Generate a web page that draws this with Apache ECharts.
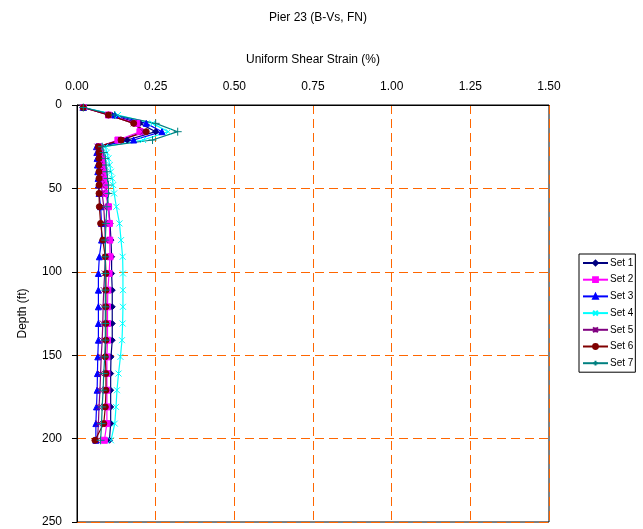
<!DOCTYPE html>
<html>
<head>
<meta charset="utf-8">
<script src="https://cdn.jsdelivr.net/npm/echarts@6/dist/echarts.min.js"></script>
<style>
  html, body { margin: 0; padding: 0; background: #fff; }
  #chart { width: 643px; height: 529px; }
</style>
</head>
<body>
<div id="chart"></div>
<script>
// depth of each point (ft)
const depths = [1.5, 6, 11, 16, 21, 25, 28.5, 32, 36, 40, 44, 48, 53, 61, 71, 81, 91, 101,
  111, 121, 131, 141, 151, 161, 171, 181, 191, 201];

// uniform shear strain (%) per set
const set1 = [0.02, 0.11, 0.20, 0.25, 0.16, 0.075, 0.078, 0.08, 0.082, 0.085, 0.088, 0.09, 0.095, 0.10,
  0.105, 0.108, 0.11, 0.11, 0.112, 0.112, 0.112, 0.112, 0.108, 0.107, 0.107, 0.107, 0.107, 0.103];
const set2 = [0.02, 0.10, 0.19, 0.20, 0.13, 0.07, 0.075, 0.078, 0.08, 0.082, 0.085, 0.088, 0.09, 0.10,
  0.103, 0.104, 0.105, 0.102, 0.098, 0.097, 0.097, 0.097, 0.095, 0.095, 0.095, 0.095, 0.095, 0.087];
const set3 = [0.02, 0.12, 0.22, 0.27, 0.18, 0.062, 0.063, 0.064, 0.065, 0.066, 0.067, 0.068, 0.07, 0.075,
  0.078, 0.078, 0.071, 0.068, 0.068, 0.068, 0.068, 0.068, 0.066, 0.065, 0.064, 0.062, 0.06, 0.06];
const set4 = [0.02, 0.13, 0.24, 0.29, 0.21, 0.09, 0.095, 0.10, 0.104, 0.108, 0.112, 0.115, 0.118, 0.125,
  0.135, 0.14, 0.145, 0.146, 0.146, 0.146, 0.145, 0.143, 0.138, 0.132, 0.127, 0.124, 0.12, 0.108];
const set5 = [0.02, 0.10, 0.18, 0.21, 0.14, 0.065, 0.068, 0.07, 0.072, 0.074, 0.076, 0.078, 0.08, 0.085,
  0.088, 0.09, 0.09, 0.088, 0.085, 0.083, 0.082, 0.08, 0.077, 0.075, 0.073, 0.07, 0.068, 0.065];
const set6 = [0.02, 0.10, 0.18, 0.22, 0.14, 0.068, 0.07, 0.07, 0.07, 0.07, 0.07, 0.07, 0.07, 0.071,
  0.075, 0.082, 0.09, 0.092, 0.092, 0.092, 0.092, 0.092, 0.09, 0.092, 0.092, 0.09, 0.085, 0.057];
const set7 = [0.02, 0.12, 0.25, 0.32, 0.24, 0.08, 0.085, 0.09, 0.092, 0.095, 0.097, 0.10, 0.10, 0.095,
  0.092, 0.09, 0.09, 0.09, 0.09, 0.09, 0.09, 0.09, 0.088, 0.085, 0.083, 0.08, 0.078, 0.075];

const setNames = ['Set 1', 'Set 2', 'Set 3', 'Set 4', 'Set 5', 'Set 6', 'Set 7'];
const setValues = [set1, set2, set3, set4, set5, set6, set7];
const colors = ['#000080', '#FF00FF', '#0000FF', '#00FFFF', '#800080', '#800000', '#008080'];
const symbols = [
  'diamond',
  'rect',
  'triangle',
  'path://M0,0L10,10M10,0L0,10',
  'path://M5,0L5,10M0,0L10,10M10,0L0,10',
  'circle',
  'path://M5,0L5,10M0,5L10,5'
];
const symbolSizes = [6, 6, 6, 6, 6, 6, 8];

const font = 'Liberation Sans, Arial, sans-serif';

const chart = echarts.init(document.getElementById('chart'), null, {renderer: 'canvas'});

chart.setOption({
  animation: false,
  backgroundColor: '#fff',
  title: {
    text: 'Pier 23 (B-Vs, FN)',
    left: 313,
    textAlign: 'center',
    top: 7,
    textStyle: {fontFamily: font, fontSize: 12, fontWeight: 'normal', color: '#000'}
  },
  legend: {
    orient: 'vertical',
    left: 579,
    top: 254,
    padding: [4, 2, 4, 3],
    itemWidth: 25,
    itemHeight: 6,
    itemGap: 6.7,
    borderColor: '#000',
    borderWidth: 1,
    textStyle: {fontFamily: font, fontSize: 10, color: '#000', padding: [0, 0, 0, -3]},
    data: setNames
  },
  grid: {
    left: 77,
    right: 94,
    top: 105,
    bottom: 7,
    show: true,
    borderColor: '#000',
    borderWidth: 1,
    backgroundColor: 'transparent'
  },
  xAxis: {
    type: 'value',
    position: 'top',
    min: 0,
    max: 1.5,
    interval: 0.25,
    name: 'Uniform Shear Strain (%)',
    nameLocation: 'middle',
    nameGap: 39,
    nameTextStyle: {fontFamily: font, fontSize: 12, color: '#000'},
    axisLine: {show: true, lineStyle: {color: '#000'}},
    axisTick: {show: false},
    axisLabel: {
      fontFamily: font, fontSize: 12, color: '#000', margin: 12,
      formatter: v => v.toFixed(2)
    },
    splitLine: {show: true, lineStyle: {color: '#FF6600', type: [9, 5], width: 1}}
  },
  yAxis: {
    type: 'value',
    inverse: true,
    min: 0,
    max: 250,
    interval: 50,
    name: 'Depth (ft)',
    nameLocation: 'middle',
    nameGap: 48,
    nameRotate: 90,
    nameTextStyle: {fontFamily: font, fontSize: 12, color: '#000'},
    axisLine: {show: true, lineStyle: {color: '#000'}},
    axisTick: {show: true, inside: false, length: 5, lineStyle: {color: '#000'}},
    axisLabel: {fontFamily: font, fontSize: 12, color: '#000', margin: 15},
    splitLine: {show: true, lineStyle: {color: '#FF6600', type: [9, 5], width: 1}}
  },
  series: setNames.map((name, i) => ({
    name: name,
    type: 'line',
    data: setValues[i].map((v, j) => [v, depths[j]]),
    symbol: symbols[i],
    symbolSize: symbolSizes[i],
    showAllSymbol: true,
    lineStyle: {color: colors[i], width: 1.2},
    itemStyle: {color: colors[i], borderColor: colors[i], borderWidth: 1},
    emphasis: {disabled: true}
  }))
});
</script>
</body>
</html>
